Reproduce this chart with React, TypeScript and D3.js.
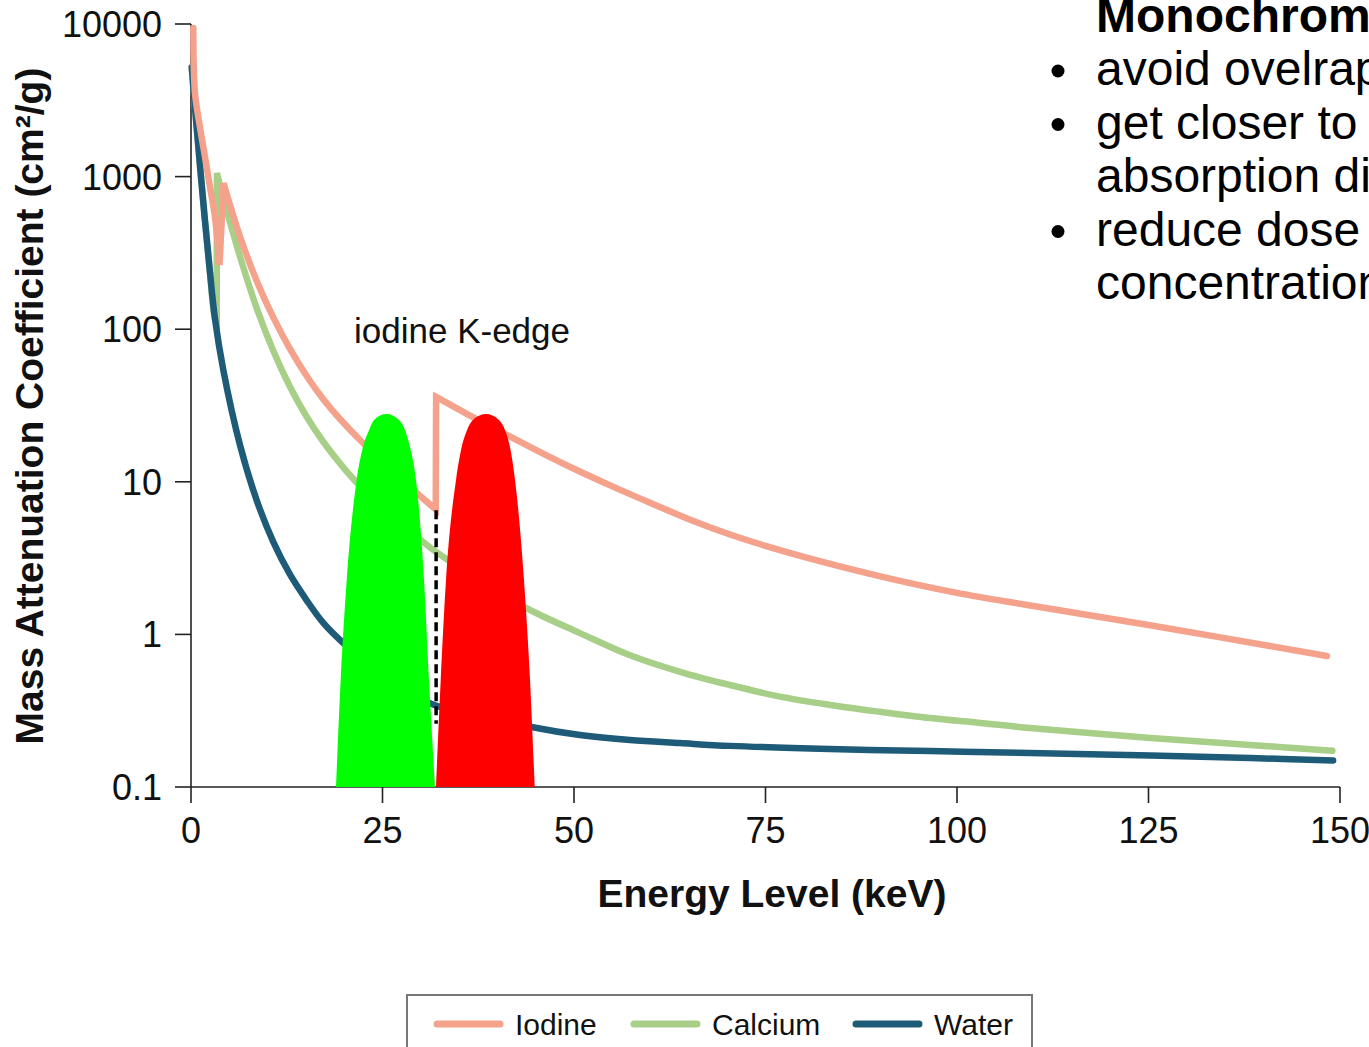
import React from "react";
import * as d3 from "d3";

// ---------- data (energy keV, mass attenuation cm²/g) ----------
const iodine: [number, number][] = [
  [0.3, 9400], [0.52, 3530], [1.17, 2110], [1.83, 1344], [2.48, 855], [3.13, 543], [3.72, 263],
  [4.25, 905], [6.4, 404], [8.58, 207], [10.74, 119.5], [12.92, 74.4], [15.1, 49.4], [17.27, 34.8],
  [19.45, 25.8], [22.49, 17.9], [29.47, 8.45], [31.95, 6.6],
  [32.0, 36], [36, 27.9], [40, 21.85], [45, 16.21], [50, 12.17], [55, 9.33], [60, 7.26], [65, 5.69],
  [70, 4.58], [75, 3.8], [80, 3.22], [90, 2.4], [100, 1.87], [110, 1.535], [125, 1.152], [148.3, 0.722],
];

const calcium: [number, number][] = [
  [0.1, 5200], [0.74, 2110], [1.57, 708], [2.43, 249], [3.13, 117], [3.36, 112],
  [3.38, 1056], [4.66, 600], [6.4, 299], [8.58, 137], [10.74, 72.3], [12.92, 42.0], [15.1, 26.7],
  [17.27, 18.3], [19.45, 13.2], [21.63, 9.88], [25.4, 6.44], [29.67, 4.28], [32, 3.47], [39, 2.05],
  [44.26, 1.445], [50.78, 1.02], [57.31, 0.73], [63.84, 0.569], [70.37, 0.466], [76.89, 0.391],
  [83.42, 0.345], [89.95, 0.311], [96.48, 0.283], [103, 0.263], [109.5, 0.2435], [125.3, 0.2095],
  [138.3, 0.1885], [149, 0.173],
];

const water: [number, number][] = [
  [0.1, 5200], [0.74, 2110], [1.57, 708], [2.43, 249], [3.13, 117], [4.22, 54], [6.4, 17.4],
  [8.58, 7.56], [10.74, 4.04], [12.92, 2.47], [15.1, 1.673], [17.27, 1.188], [19.88, 0.878], [25, 0.547],
  [31.42, 0.35], [44.26, 0.248], [50.78, 0.219], [57.31, 0.203], [63.84, 0.194], [70.37, 0.186],
  [83.42, 0.1774], [96.48, 0.172], [109.5, 0.167], [125.3, 0.1609], [138.3, 0.1549], [149.1, 0.149],
];

const greenSpectrum: [number, number][] = [
  [18.93, 0.1], [19.54, 0.502], [20.33, 2.27], [21.63, 10.3], [22.45, 16.9], [23.24, 21.8], [23.9, 25.4],
  [25.5, 27.8], [27.15, 25.4], [27.94, 21.8], [28.59, 16.9], [29.37, 10.3], [30.42, 2.27], [31.07, 0.502],
  [31.85, 0.1],
];

const redSpectrum: [number, number][] = [
  [31.98, 0.1], [32.6, 0.502], [33.29, 2.27], [34.6, 10.3], [35.34, 16.9], [36.03, 21.8], [36.8, 25.4],
  [38.51, 27.8], [40.2, 25.4], [41.0, 21.8], [41.64, 16.9], [42.3, 10.3], [43.47, 2.27], [44.26, 0.502],
  [44.87, 0.1],
];

const kEdge = { energy: 32.0, top: 6.5, bottom: 0.26 };

const xTicks = [0, 25, 50, 75, 100, 125, 150];
const yTicks = [0.1, 1, 10, 100, 1000, 10000];
const yTickLabels = ["0.1", "1", "10", "100", "1000", "10000"];

const seriesNames = ["Iodine", "Calcium", "Water"];
const seriesColors = ["#f5a28d", "#a8cf88", "#1e5b79"];

const sideTitle = "Monochrom";
const sideLines: { text: string; bullet: boolean }[] = [
  { text: "avoid ovelrap", bullet: true },
  { text: "get closer to", bullet: true },
  { text: "absorption di", bullet: false },
  { text: "reduce dose", bullet: true },
  { text: "concentration", bullet: false },
];

const FONT = "'Liberation Sans', Arial, Helvetica, sans-serif";

const W = 1369;
const H = 1047;

export default function App() {
  const x = d3.scaleLinear().domain([0, 150]).range([191, 1340]);
  const y = d3.scaleLog().domain([0.1, 10000]).range([787, 24]);

  const line = d3
    .line<[number, number]>()
    .x((d) => x(d[0]))
    .y((d) => y(d[1]))
    .curve(d3.curveCatmullRom.alpha(0.5));

  // split at absorption edges (where the coefficient rises), join pieces with straight lines
  const edgePath = (data: [number, number][]) => {
    const segs: [number, number][][] = [];
    let cur: [number, number][] = [data[0]];
    for (let i = 1; i < data.length; i++) {
      if (data[i][1] > data[i - 1][1]) {
        segs.push(cur);
        cur = [data[i]];
      } else cur.push(data[i]);
    }
    segs.push(cur);
    return segs
      .map((s, i) => {
        const p = line(s) || "";
        return i === 0 ? p : "L" + p.slice(1);
      })
      .join("");
  };

  const area = d3
    .area<[number, number]>()
    .x((d) => x(d[0]))
    .y0(y(0.1))
    .y1((d) => y(d[1]))
    .curve(d3.curveMonotoneX);

  const seriesData = [iodine, calcium, water];
  const drawOrder = [1, 2, 0];

  const legendX = [437, 634, 856];

  return (
    <svg
      width={W}
      height={H}
      style={{ position: "absolute", left: 0, top: 0, background: "#fff" }}
      fontFamily={FONT}
    >
      <rect x={0} y={0} width={W} height={H} fill="#fff" />

      {/* axes */}
      <g stroke="#222" strokeWidth={1.6} fill="none">
        <line x1={x(0)} x2={x(0)} y1={y(10000)} y2={y(0.1)} />
        <line x1={x(0)} x2={x(150)} y1={y(0.1)} y2={y(0.1)} />
        {yTicks.map((t) => (
          <line key={"yt" + t} x1={x(0) - 16} x2={x(0)} y1={y(t)} y2={y(t)} />
        ))}
        {xTicks.map((t) => (
          <line key={"xt" + t} x1={x(t)} x2={x(t)} y1={y(0.1)} y2={y(0.1) + 16} />
        ))}
      </g>
      <g fontSize={36} fill="#111">
        {yTicks.map((t, i) => (
          <text key={"yl" + t} x={162} y={y(t) + 13} textAnchor="end">
            {yTickLabels[i]}
          </text>
        ))}
        {xTicks.map((t) => (
          <text key={"xl" + t} x={x(t)} y={843} textAnchor="middle">
            {t}
          </text>
        ))}
      </g>

      <text x={772} y={907} textAnchor="middle" fontSize={39} fontWeight="bold" fill="#111">
        Energy Level (keV)
      </text>
      <text
        transform="translate(43,406) rotate(-90)"
        textAnchor="middle"
        fontSize={39}
        fontWeight="bold"
        fill="#111"
      >
        Mass Attenuation Coefficient (cm²/g)
      </text>

      {/* curves */}
      {drawOrder.map((i) => (
        <path
          key={seriesNames[i]}
          d={edgePath(seriesData[i])}
          fill="none"
          stroke={seriesColors[i]}
          strokeWidth={6.5}
          strokeLinecap="round"
          strokeLinejoin="miter"
        />
      ))}

      {/* monochromatic spectra */}
      <path d={area(greenSpectrum) || ""} fill="#00ff00" />
      <path d={area(redSpectrum) || ""} fill="#ff0000" />

      <line
        x1={x(kEdge.energy)}
        x2={x(kEdge.energy)}
        y1={y(kEdge.top)}
        y2={y(kEdge.bottom)}
        stroke="#000"
        strokeWidth={3.5}
        strokeDasharray="9 5"
      />

      <text x={354} y={343} fontSize={35} fill="#111">
        iodine K-edge
      </text>

      {/* side notes */}
      <text x={1096} y={32} fontSize={48} fontWeight="bold" fill="#000">
        {sideTitle}
      </text>
      {sideLines.map((l, i) => {
        const by = 85 + i * 53.5;
        return (
          <g key={l.text}>
            {l.bullet && <circle cx={1058} cy={by - 14} r={6.5} fill="#000" />}
            <text x={1096} y={by} fontSize={48} fill="#000">
              {l.text}
            </text>
          </g>
        );
      })}

      {/* legend */}
      <rect x={407} y={995} width={625} height={90} fill="#fff" stroke="#777" strokeWidth={2} />
      {seriesNames.map((n, i) => (
        <g key={"lg" + n}>
          <line
            x1={legendX[i]}
            x2={legendX[i] + 63}
            y1={1024}
            y2={1024}
            stroke={seriesColors[i]}
            strokeWidth={7}
            strokeLinecap="round"
          />
          <text x={legendX[i] + 78} y={1035} fontSize={30} fill="#111">
            {n}
          </text>
        </g>
      ))}
    </svg>
  );
}
